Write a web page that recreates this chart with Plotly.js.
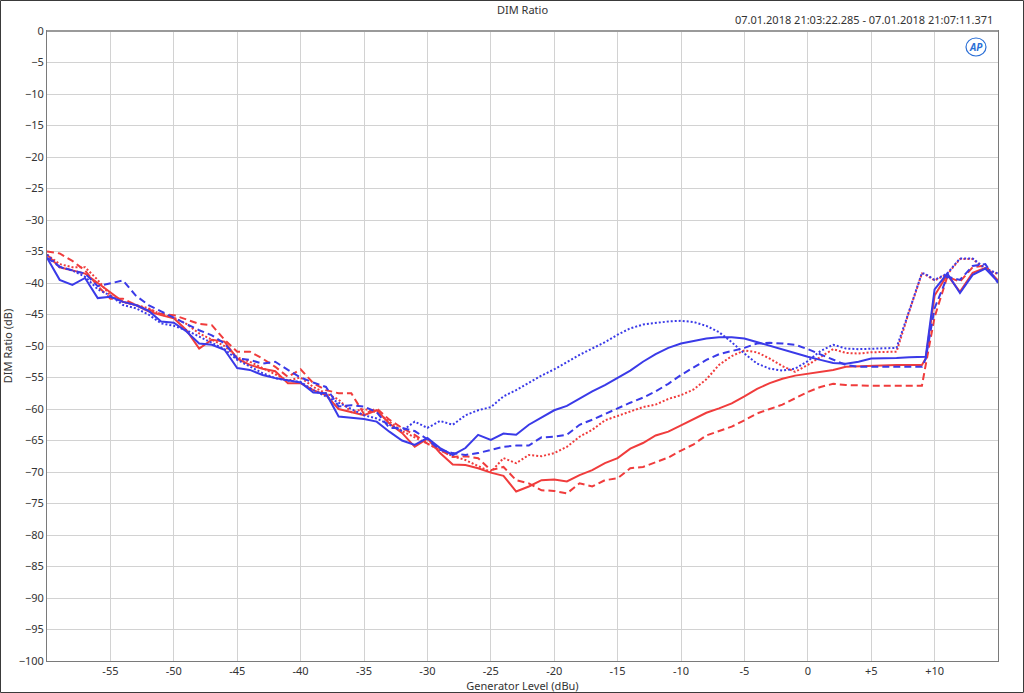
<!DOCTYPE html>
<html>
<head>
<meta charset="utf-8">
<script src="https://cdn.plot.ly/plotly-3.0.1.min.js"></script>
<style>
html,body{margin:0;padding:0;background:#fff;}
#chart{width:1024px;height:693px;}
</style>
</head>
<body>
<div id="chart"></div>
<script>
// Generator level (dBu)
const genLevel = [-60,-59,-58,-57,-56,-55,-54,-53,-52,-51,-50,-49,-48,-47,-46,-45,-44,-43,-42,-41,-40,-39,-38,-37,-36,-35,-34,-33,-32,-31,-30,-29,-28,-27,-26,-25,-24,-23,-22,-21,-20,-19,-18,-17,-16,-15,-14,-13,-12,-11,-10,-9,-8,-7,-6,-5,-4,-3,-2,-1,0,1,2,3,4,5,6,7,8,9,9.3,10,11,12,13,14,15];

// DIM ratio (dB) per series
const blueSolid = [-36,-39.5,-40.3,-39.2,-42.4,-42.2,-43,-43.5,-44.4,-46.1,-46.3,-47.7,-49.6,-49.8,-50.6,-53.5,-53.8,-54.6,-55.1,-55.4,-55.8,-57.4,-57.5,-61.2,-61.4,-61.6,-62,-63.6,-65,-65.7,-64.6,-66.2,-67.3,-66.2,-64.1,-64.9,-63.9,-64.1,-62.5,-61.3,-60.2,-59.5,-58.3,-57.2,-56.2,-55,-53.9,-52.5,-51.3,-50.3,-49.6,-49.2,-48.8,-48.6,-48.6,-48.8,-49.4,-50,-50.6,-51.2,-51.7,-52.2,-52.7,-52.8,-52.5,-52,-52,-51.9,-51.8,-51.7,-51.7,-41,-38.5,-41.6,-38.7,-37.7,-39.8];
const blueDashed = [-36,-37.4,-38,-38.5,-40.5,-40,-39.6,-42,-43.5,-44.5,-45.5,-46.5,-47.5,-48.3,-49.6,-52,-52.2,-52.8,-52.5,-53.8,-55,-55.8,-56.5,-59.6,-59.4,-59.6,-60.5,-63,-63,-63.5,-64.8,-66.5,-67,-67.3,-67,-66.5,-66,-65.8,-65.8,-64.5,-64.4,-64.1,-62.5,-61.7,-60.8,-59.8,-59,-58.2,-57.2,-56,-54.6,-53.4,-52.2,-51.3,-50.8,-50.3,-49.6,-49.5,-49.6,-49.8,-50.5,-51.3,-52.2,-53,-53.3,-53.3,-53.3,-53.3,-53.3,-53.3,-52,-44,-39,-39.5,-37.3,-37,-40];
const blueDotted = [-35.5,-37.5,-38,-39,-41,-42,-43.5,-44,-45,-46.4,-46.8,-47.5,-48.5,-49.5,-50.5,-52.2,-53.3,-54.3,-55.1,-55.5,-55.7,-57,-58,-59,-60,-61,-61.5,-62.5,-63.5,-62,-63,-61.9,-62.5,-61,-60.2,-59.7,-58,-57,-55.8,-54.7,-53.7,-52.5,-51.4,-50.4,-49.4,-48.2,-47.2,-46.6,-46.3,-46.1,-46,-46.2,-46.8,-47.8,-49.4,-51.2,-52.8,-53.6,-53.9,-53.6,-52.4,-50.8,-49.8,-50.4,-50.5,-50.4,-50.4,-50.3,-44.4,-38.4,-38.6,-39.5,-38.5,-36.1,-36.1,-37.7,-38.5];
const redSolid = [-35.5,-37.5,-38,-38.5,-40,-41.5,-43,-43.5,-44.5,-45.1,-45.6,-47.5,-50.4,-49,-49.3,-52,-53,-53.6,-54,-55.9,-55.9,-57,-57.8,-60,-60.5,-61,-60.2,-62.3,-63.8,-66,-64.7,-67,-68.8,-68.9,-69.4,-70.1,-70.6,-73.1,-72.3,-71.3,-71.2,-71.5,-70.5,-69.7,-68.6,-67.8,-66.3,-65.4,-64.2,-63.6,-62.6,-61.6,-60.6,-59.9,-59.1,-58,-56.8,-55.9,-55.2,-54.7,-54.4,-54.2,-53.8,-53.3,-53.2,-53.1,-53,-53,-53,-53,-52,-42,-38.7,-41.4,-38.4,-37.6,-39.6];
const redDashed = [-35,-35.3,-36.5,-38,-40.5,-42.5,-42.5,-43.5,-44.2,-44.9,-45.1,-45.8,-46.5,-46.7,-49,-50.9,-50.9,-52,-53.3,-54.9,-53.7,-55.9,-57,-57.5,-57.5,-60.8,-59.9,-61.7,-63,-64.1,-65.5,-66.5,-67.6,-67.5,-67.8,-69.7,-69.2,-71.3,-71.8,-72.9,-73,-73.4,-71.8,-72.3,-71.3,-71,-69.4,-69.2,-68.4,-67.7,-66.6,-65.6,-64.2,-63.5,-62.8,-61.8,-60.7,-60,-59.3,-58.3,-57.3,-56.5,-56,-56.2,-56.3,-56.3,-56.3,-56.3,-56.3,-56.3,-53,-45.4,-39,-39.8,-37.5,-37.2,-39.8];
const redDotted = [-35.5,-37,-37.5,-37.5,-39.5,-42,-43,-43.5,-44,-45,-45.5,-46.5,-48,-49,-50,-51.8,-52.5,-53.5,-54.5,-55.5,-55,-56.5,-57.5,-58.5,-60.5,-60,-60.5,-62,-63.5,-64.5,-65.5,-66.5,-67.5,-68.1,-69,-70,-67.8,-68.6,-67.3,-67.5,-67,-66,-64.4,-63.3,-61.8,-61.1,-60.5,-59.7,-59.3,-58.4,-57.8,-56.9,-55.3,-53,-51.6,-50.7,-51,-52,-53.2,-54.1,-53,-51.7,-50.5,-51.1,-51.2,-51,-51,-50.9,-44.5,-38.5,-38.7,-39.6,-38.6,-36.2,-36.2,-37.8,-38.6];

// Axis tick labels
const xTickVals = [-55,-50,-45,-40,-35,-30,-25,-20,-15,-10,-5,0,5,10];
const xTickText = ['-55','-50','-45','-40','-35','-30','-25','-20','-15','-10','-5','0','+5','+10'];
const yTickVals = [0,-5,-10,-15,-20,-25,-30,-35,-40,-45,-50,-55,-60,-65,-70,-75,-80,-85,-90,-95,-100];

const BLUE = '#3a3ae8';
const RED = '#f03c3c';

function tr(y, color, dash) {
  return {x: genLevel, y: y, type: 'scatter', mode: 'lines',
          line: {color: color, width: 2, dash: dash}, hoverinfo: 'skip', showlegend: false};
}

const data = [
  tr(redDotted, RED, '2px,2px'),
  tr(redDashed, RED, '7px,4px'),
  tr(redSolid, RED, 'solid'),
  tr(blueDotted, BLUE, '2px,2px'),
  tr(blueDashed, BLUE, '7px,4px'),
  tr(blueSolid, BLUE, 'solid')
];

const W = 951, H = 630;
const layout = {
  width: 1024, height: 693,
  margin: {l: 47, r: 26, t: 31, b: 32},
  paper_bgcolor: '#fff', plot_bgcolor: '#fff',
  font: {family: 'Noto Sans, Roboto, sans-serif', size: 11, color: '#333'},
  showlegend: false,
  xaxis: {
    range: [-60, 15], tickmode: 'array', tickvals: xTickVals, ticktext: xTickText,
    showgrid: true, gridcolor: '#d2d2d2', gridwidth: 1, zeroline: false,
    showline: true, linecolor: '#7a7a7a', linewidth: 1, mirror: true,
    ticks: '', ticklen: 0, tickfont: {size: 11, color: '#333'},
    title: {text: 'Generator Level (dBu)', font: {size: 11, color: '#333'}, standoff: 2}
  },
  yaxis: {
    range: [-100, 0], tickmode: 'array', tickvals: yTickVals,
    showgrid: true, gridcolor: '#d2d2d2', gridwidth: 1, zeroline: false,
    showline: true, linecolor: '#7a7a7a', linewidth: 1, mirror: true,
    ticks: '', ticklen: 0, tickfont: {size: 11, color: '#333'},
    title: {text: 'DIM Ratio (dB)', font: {size: 11, color: '#333'}, standoff: 6}
  },
  annotations: [
    {text: 'DIM Ratio', xref: 'paper', yref: 'paper', x: 0.5, y: 1 + 30/H, xanchor: 'center', yanchor: 'top',
     borderpad: 0, showarrow: false, font: {size: 11, color: '#333'}},
    {text: '07.01.2018 21:03:22.285 - 07.01.2018 21:07:11.371', xref: 'paper', yref: 'paper',
     x: 1 - 3/W, y: 1 + 12/H, xanchor: 'right', yanchor: 'middle', showarrow: false,
     font: {size: 11, color: '#333'}},
    {text: '<b><i>AP</i></b>', xref: 'paper', yref: 'paper', x: 1 - 22/W, y: 1 - 16/H,
     xanchor: 'center', yanchor: 'middle', showarrow: false, font: {size: 10, color: '#2a6fd6'}}
  ],
  shapes: [
    {type: 'line', xref: 'paper', yref: 'paper', x0: 0, x1: 1, y0: 1, y1: 1,
     line: {color: '#9a9a9a', width: 2}},
    {type: 'circle', xref: 'paper', yref: 'paper',
     x0: 1 - 32/W, x1: 1 - 12/W, y0: 1 - 25/H, y1: 1 - 7/H,
     line: {color: '#2a6fd6', width: 1.2}, fillcolor: 'rgba(0,0,0,0)'},
    {type: 'rect', xref: 'paper', yref: 'paper',
     x0: (0.5 - 47)/W, x1: (1023.5 - 47)/W, y0: -(692.5 - 661)/H, y1: 1 + (31 - 0.5)/H,
     line: {color: '#3a3a3a', width: 1}, fillcolor: 'rgba(0,0,0,0)'}
  ]
};

Plotly.newPlot('chart', data, layout, {displayModeBar: false, staticPlot: true});
</script>
</body>
</html>
